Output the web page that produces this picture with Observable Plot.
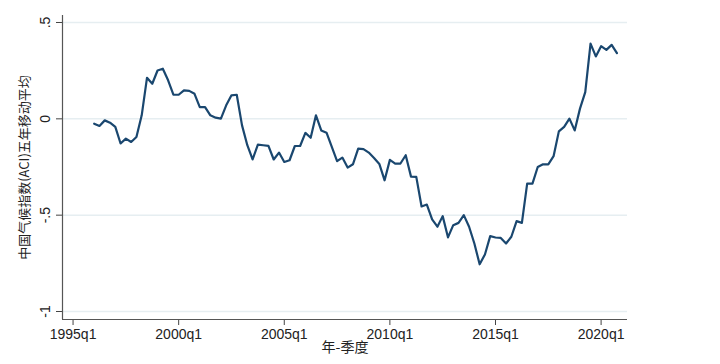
<!DOCTYPE html>
<html>
<head>
<meta charset="utf-8">
<script src="https://cdn.jsdelivr.net/npm/d3@7"></script>
<script src="https://cdn.jsdelivr.net/npm/@observablehq/plot@0.6"></script>
<style>
  html, body { margin: 0; padding: 0; background: #ffffff; }
  #chart svg { display: block; }
</style>
</head>
<body>
<div id="chart"></div>
<script>
// Series: China climate index (ACI), five-year moving average, quarterly from 1996q1 to 2020q4
const startYear = 1996;
const aciValues = [
  -0.025, -0.037, -0.008, -0.020,   // 1996
  -0.042, -0.128, -0.103, -0.120,   // 1997
  -0.094,  0.018,  0.213,  0.182,   // 1998
   0.251,  0.260,  0.200,  0.125,   // 1999
   0.125,  0.148,  0.145,  0.130,   // 2000
   0.061,  0.061,  0.018,  0.006,   // 2001
   0.001,  0.070,  0.122,  0.125,   // 2002
  -0.034, -0.137, -0.211, -0.134,   // 2003
  -0.137, -0.140, -0.211, -0.175,   // 2004
  -0.224, -0.215, -0.141, -0.141,   // 2005
  -0.073, -0.098,  0.018, -0.060,   // 2006
  -0.072, -0.146, -0.220, -0.201,   // 2007
  -0.253, -0.236, -0.155, -0.157,   // 2008
  -0.175, -0.203, -0.234, -0.319,   // 2009
  -0.213, -0.232, -0.232, -0.189,   // 2010
  -0.300, -0.301, -0.455, -0.445,   // 2011
  -0.522, -0.560, -0.505, -0.615,   // 2012
  -0.552, -0.540, -0.500, -0.560,   // 2013
  -0.647, -0.755, -0.704, -0.609,   // 2014
  -0.616, -0.618, -0.647, -0.612,   // 2015
  -0.531, -0.540, -0.336, -0.336,   // 2016
  -0.250, -0.236, -0.236, -0.194,   // 2017
  -0.065, -0.042,  0.001, -0.060,   // 2018
   0.053,  0.139,  0.390,  0.324,   // 2019
   0.377,  0.358,  0.384,  0.341    // 2020
];
const xTickYears = [1995, 2000, 2005, 2010, 2015, 2020];
const xTickSuffix = "q1";
const yTicks = [0.5, 0, -0.5, -1];
const yTickLabels = [".5", "0", "-.5", "-1"];
const yTitle = "中国气候指数(ACI)五年移动平均";
const xTitle = "年-季度";

const data = aciValues.map((v, i) => ({
  t: startYear + Math.floor(i / 4) + (i % 4) / 4,
  v
}));

const xDomain = [1994.5, 2021.25];
const yDomain = [-1.0415, 0.5363];
const navy = "#1a476f";
const sans = "'Liberation Sans', Arial, Helvetica, sans-serif";
const cjk = "'Noto Sans CJK SC', 'Noto Sans', sans-serif";

const chart = Plot.plot({
  width: 720,
  height: 364,
  marginLeft: 62,
  marginRight: 93,
  marginTop: 15,
  marginBottom: 45,
  style: { fontFamily: sans, background: "#ffffff", color: "#222" },
  x: { domain: xDomain, label: null },
  y: { domain: yDomain, label: null },
  marks: [
    Plot.ruleY(yTicks, { stroke: "#e6eef1", strokeWidth: 1.5 }),
    Plot.axisX({
      ticks: xTickYears,
      tickFormat: d => d + xTickSuffix,
      tickSize: 6,
      tickPadding: 4,
      stroke: "#444",
      fontSize: 14,
      fill: "#222",
      label: null,
      style: { letterSpacing: "0.5px" }
    }),
    Plot.axisY({
      ticks: yTicks,
      tickSize: 6,
      tickFormat: () => "",
      stroke: "#444",
      label: null
    }),
    Plot.text(yTicks, {
      y: d => d,
      text: (d, i) => yTickLabels[i],
      frameAnchor: "left",
      dx: -17,
      rotate: -90,
      textAnchor: "middle",
      lineAnchor: "middle",
      fontSize: 14,
      fill: "#222"
    }),
    Plot.ruleX([xDomain[0]], { stroke: "#555", strokeWidth: 1.2 }),
    Plot.ruleY([yDomain[0]], { stroke: "#555", strokeWidth: 1.2 }),
    Plot.line(data, {
      x: "t",
      y: "v",
      stroke: navy,
      strokeWidth: 2.2,
      strokeLinejoin: "round",
      curve: "linear"
    }),
    Plot.text([yTitle], {
      text: d => d,
      frameAnchor: "left",
      dx: -38,
      rotate: -90,
      textAnchor: "middle",
      lineAnchor: "middle",
      fontSize: 13,
      fontFamily: cjk,
      fill: "#222"
    }),
    Plot.text([xTitle], {
      text: d => d,
      frameAnchor: "bottom",
      dy: 28,
      textAnchor: "middle",
      lineAnchor: "middle",
      fontSize: 14,
      fontFamily: cjk,
      fill: "#222"
    })
  ]
});

document.getElementById("chart").appendChild(chart);
</script>
</body>
</html>
